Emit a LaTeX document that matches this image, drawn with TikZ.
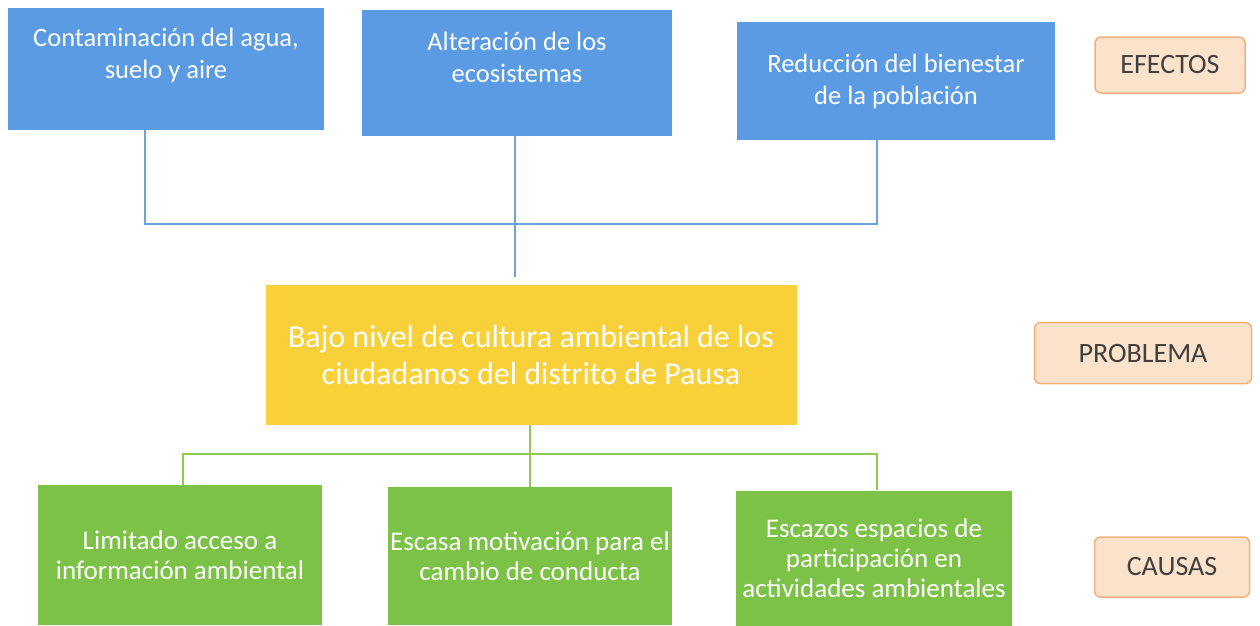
\documentclass[tikz,border=0pt]{standalone}
\usepackage{fontspec}
\setmainfont{Carlito}
\usepackage{xcolor}
\definecolor{efblue}{HTML}{5A9BE4}
\definecolor{pryellow}{HTML}{F8D03A}
\definecolor{cagreen}{HTML}{7BC246}
\definecolor{tagfill}{HTML}{FBE3CB}
\definecolor{tagline}{HTML}{F2B07A}
\definecolor{tagtext}{HTML}{404040}
\definecolor{blueline}{HTML}{6AA3DD}
\definecolor{greenline}{HTML}{93C84E}

\tikzset{
  efecto/.style={fill=efblue, text=white, align=center, inner sep=0pt,
    font=\fontsize{26.5}{32}\selectfont},
  problema/.style={fill=pryellow, text=white, align=center, inner sep=0pt,
    font=\fontsize{32}{37}\selectfont},
  causa/.style={fill=cagreen, text=white, align=center, inner sep=0pt,
    font=\fontsize{27}{30}\selectfont},
  tag/.style={draw=tagline, line width=1.5pt, fill=tagfill, rounded corners=6pt,
    text=tagtext, inner sep=0pt, font=\fontsize{28}{32}\selectfont},
  bline/.style={draw=blueline, line width=1.6pt},
  gline/.style={draw=greenline, line width=1.6pt}
}

\begin{document}
\begin{tikzpicture}[x=1pt,y=-1pt]
  \useasboundingbox (0,0) rectangle (1260,625);

  % efectos
  \node[efecto, minimum width=316pt, minimum height=122pt] (ef1) at (166,69)
    {Contaminación del agua,\\suelo y aire\\[0pt]};
  \node[efecto, minimum width=310pt, minimum height=126pt] (ef2) at (517,73)
    {Alteración de los\\ecosistemas\\[0pt]};
  \node[efecto, minimum width=318pt, minimum height=118pt] (ef3) at (896,81)
    {Reducción del bienestar\\de la población};
  \node[tag, minimum width=150pt, minimum height=56pt] (tef) at (1170,65) {EFECTOS};

  % problema
  \node[problema, minimum width=531pt, minimum height=140pt] (pr) at (531,355)
    {Bajo nivel de cultura ambiental de los\\ciudadanos del distrito de Pausa};
  \node[tag, minimum width=217pt, minimum height=61pt] (tpr) at (1143,353) {PROBLEMA};

  % causas
  \node[causa, minimum width=284pt, minimum height=140pt] (ca1) at (180,555)
    {Limitado acceso a\\información ambiental};
  \node[causa, minimum width=284pt, minimum height=138pt] (ca2) at (530,556)
    {Escasa motivación para el\\cambio de conducta};
  \node[causa, minimum width=276pt, minimum height=135pt] (ca3) at (874,558)
    {Escazos espacios de\\participación en\\actividades ambientales};
  \node[tag, minimum width=155pt, minimum height=60pt] (tca) at (1172,567) {CAUSAS};

  % conectores de efectos
  \coordinate (jl) at (145,224);
  \coordinate (jm) at (515,224);
  \coordinate (jr) at (877,224);
  \coordinate (jp) at (515,277);
  \draw[bline] (ef1.south -| jl) -- (jl) -- (jr) -- (ef3.south -| jr);
  \draw[bline] (ef2.south -| jm) -- (jp);

  % conectores de causas
  \coordinate (kl) at (183,454);
  \coordinate (km) at (530,454);
  \coordinate (kr) at (877,454);
  \draw[gline] (pr.south -| km) -- (ca2.north -| km);
  \draw[gline] (ca1.north -| kl) -- (kl) -- (kr) -- (ca3.north -| kr);
\end{tikzpicture}
\end{document}
